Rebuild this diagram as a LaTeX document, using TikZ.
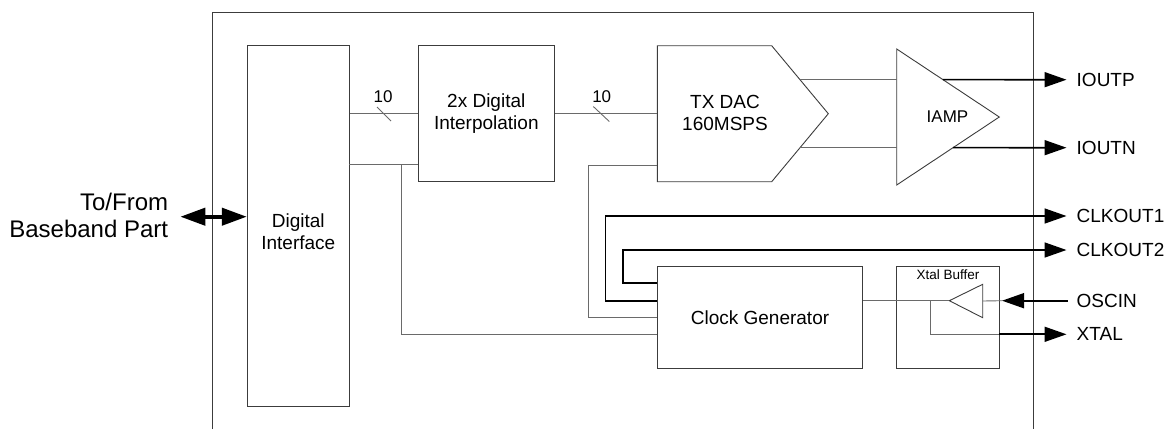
\documentclass[tikz,border=0pt]{standalone}
\usepackage{fontspec}
\setmainfont{Liberation Sans}
\usetikzlibrary{calc,arrows.meta}
\definecolor{wiregray}{HTML}{6A6A6A}
\definecolor{boxgray}{HTML}{3C3C3C}
\tikzset{
  blk/.style={draw=boxgray, line width=0.9pt, inner sep=0pt},
  wire/.style={draw=wiregray, line width=0.9pt},
  sig/.style={draw=black, line width=1.7pt, -{Triangle[length=22pt,width=15pt]}},
  bidir/.style={draw=black, line width=4pt,
    {Triangle[length=25pt,width=17pt]}-{Triangle[length=25pt,width=17pt]}},
  txt/.style={font=\fontsize{19}{22}\selectfont, align=center, inner sep=0pt},
  pinlab/.style={font=\fontsize{19}{22}\selectfont, anchor=west, inner sep=0pt},
  buslab/.style={font=\fontsize{17}{20}\selectfont, inner sep=0pt},
  smalllab/.style={font=\fontsize{13.5}{15}\selectfont, inner sep=0pt}
}

\begin{document}
\begin{tikzpicture}[x=1pt, y=-1pt]
  \useasboundingbox (0,0) rectangle (1167,429);

  % chip outline, open at the bottom
  \draw[draw=boxgray, line width=0.9pt] (212.5,429) -- (212.5,12) -- (1033,12) -- (1033,429);

  % blocks
  \node[blk, minimum width=102pt, minimum height=360.3pt] (di) at (298.3,225.9) {};
  \node[txt] (ditext) at (298.3,232) {Digital\\Interface};
  \node[blk, minimum width=136pt, minimum height=136pt, txt] (interp) at (486.3,113.7) {2x Digital\\Interpolation};
  \node[blk, minimum width=205.4pt, minimum height=102pt, txt] (cg) at (760,317.7) {Clock Generator};
  \node[blk, minimum width=102.6pt, minimum height=101.6pt] (xb) at (948,317.5) {};
  \node[smalllab, anchor=north] (xbtext) at ([yshift=-3pt]xb.north) {Xtal Buffer};

  % DAC
  \coordinate (dac1) at (657.3,45.7);
  \coordinate (dac2) at (771.7,45.7);
  \coordinate (dactip) at (828.3,113.7);
  \coordinate (dac4) at (771.7,181.7);
  \coordinate (dac5) at (657.3,181.7);
  \draw[blk] (dac1) -- (dac2) -- (dactip) -- (dac4) -- (dac5) -- cycle;
  \node[txt] (dactext) at (725,113.3) {TX DAC\\160MSPS};

  % IAMP
  \coordinate (amp1) at (896.7,49);
  \coordinate (amp2) at (896.7,185);
  \coordinate (amptip) at (999.3,117);
  \draw[blk] (amp1) -- (amptip) -- (amp2) -- cycle;
  \node[buslab] (amptext) at (947.5,117) {IAMP};

  % buffer
  \coordinate (bufT) at (982.7,284.3);
  \coordinate (bufB) at (982.7,317.7);
  \coordinate (buftip) at (949.3,300.7);
  \draw[blk] (bufT) -- (buftip) -- (bufB) -- cycle;

  % pins
  \node[txt, align=right, anchor=east, font=\fontsize{24}{27.6}\selectfont] (bb) at (168.3,215.5) {To/From\\Baseband Part};
  \node[pinlab] (ioutp) at (1076.5,79.7) {IOUTP};
  \node[pinlab] (ioutn) at (1076.5,147.7) {IOUTN};
  \node[pinlab] (clk1) at (1076.5,216) {CLKOUT1};
  \node[pinlab] (clk2) at (1076.5,250) {CLKOUT2};
  \node[pinlab] (oscin) at (1076.5,300.7) {OSCIN};
  \node[pinlab] (xtal) at (1076.5,334.3) {XTAL};

  \draw[bidir, shorten <=12pt] (bb.east |- 0,216.7) -- (di.west |- 0,216.7);

  % data path
  \draw[wire] (interp.west -| di.east) -- (interp.west);
  \draw[wire] (377,107) -- (391,121);
  \node[buslab] (bus1) at (383,97) {10};
  \draw[wire] (interp.east) -- (interp.east -| dac1);
  \draw[wire] (593.3,106.5) -- (609.3,121.5);
  \node[buslab] (bus2) at (601.7,97) {10};

  \coordinate (diB) at (349.3,164.7);
  \coordinate (tap) at (401,164.7);
  \coordinate (dacB) at (657.3,165);
  \draw[wire] (diB) -- (diB -| interp.west);
  \draw[wire] (tap) |- ([yshift=-16.6pt]cg.west);
  \draw[wire] (cg.west) -- ++(-68.3,0) |- (dacB);

  \coordinate (dacP) at ($(dac2)!0.5!(dactip)$);
  \coordinate (dacN) at ($(dac4)!0.5!(dactip)$);
  \draw[wire] (dacP) -- (dacP -| amp1);
  \draw[wire] (dacN) -- (dacN -| amp1);
  \draw[sig, shorten >=10pt] ($(amp1)!0.45!(amptip)$) -- (ioutp.west);
  \draw[sig, shorten >=10pt] ($(amp2)!0.55!(amptip)$) -- (ioutn.west);

  % clocks
  \draw[sig, shorten >=10pt] ([yshift=17pt]cg.west) -- ++(-51.3,0) |- (clk1.west);
  \draw[sig, shorten >=10pt] ([yshift=34.4pt]cg.west) -- ++(-34,0) |- (clk2.west);

  \coordinate (xj) at (930.7,300.7);
  \coordinate (xbR) at (999.3,334.3);
  \coordinate (osctip) at (1002,300.7);
  \draw[wire] ([yshift=17pt]cg.east) -- (buftip);
  \draw[wire] (xj) |- (xbR);
  \draw[sig, shorten >=10pt] (xbR) -- (xtal.west);
  \draw[wire] ($(bufT)!0.5!(bufB)$) -- (osctip);
  \draw[sig, shorten <=9pt] (oscin.west) -- (osctip);
\end{tikzpicture}
\end{document}
